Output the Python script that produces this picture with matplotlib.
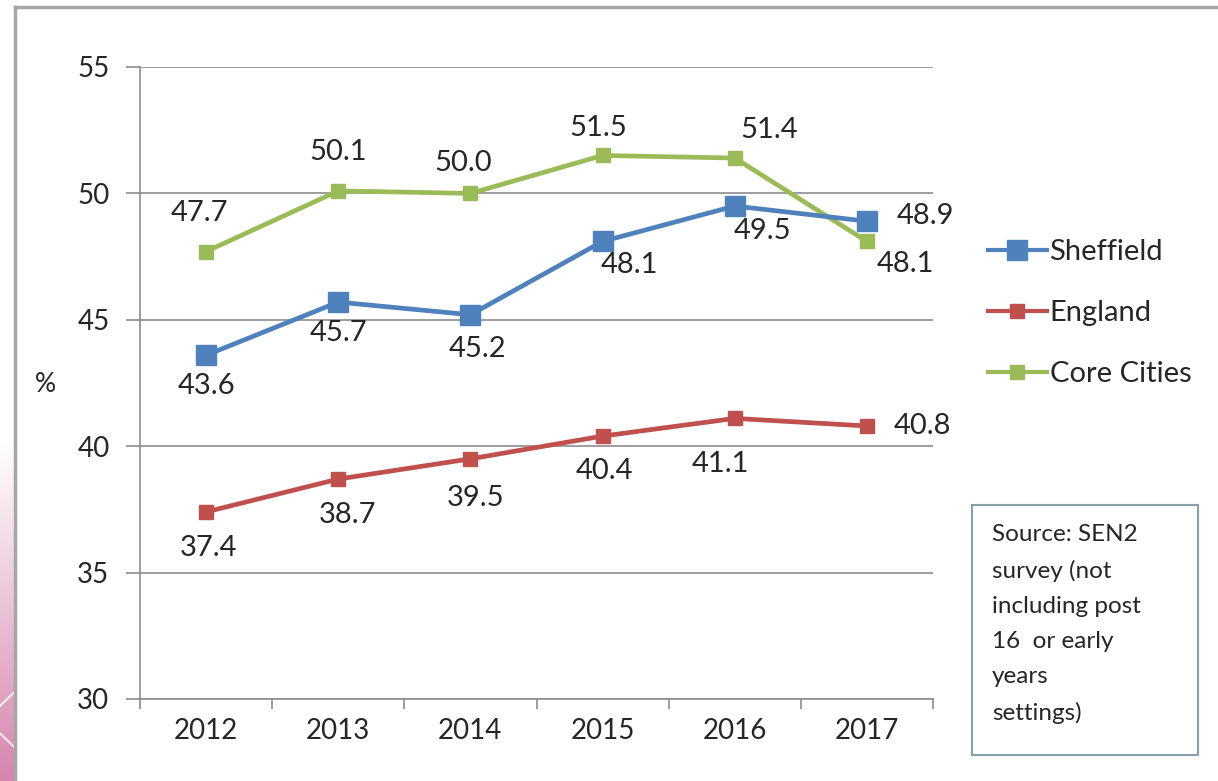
import numpy as np
import matplotlib.pyplot as plt
from matplotlib.lines import Line2D
from matplotlib.patches import Rectangle

plt.rcParams['font.family'] = ['Lato', 'DejaVu Sans']

years = ['2012', '2013', '2014', '2015', '2016', '2017']
sheffield = [43.6, 45.7, 45.2, 48.1, 49.5, 48.9]
england = [37.4, 38.7, 39.5, 40.4, 41.1, 40.8]
core_cities = [47.7, 50.1, 50.0, 51.5, 51.4, 48.1]

# label offsets in points (dx, dy) for each point
sheff_off = [(0, -22), (0, -22), (5, -25), (19, -17), (20, -18), (42, 4)]
eng_off = [(2, -26), (7, -26), (4, -28), (1, -25), (-10, -33), (40, 0)]
core_off = [(-5, 28), (0, 28), (-5, 22), (-3, 20), (25, 20), (28, -16)]

c_sheff = '#4F81BD'
c_eng = '#C0504D'
c_core = '#9BBB59'
txt = '#262626'

fig = plt.figure(figsize=(12.18, 7.81), dpi=100)

# pink slide decoration on the left edge
bg = fig.add_axes([0, 0, 14 / 1218, 1 - 440 / 781])
grad = np.linspace(0, 1, 200)[:, None]
pink = np.array([0.84, 0.52, 0.68])
img = np.ones((200, 1, 3)) * (1 - grad[..., None]) + pink * grad[..., None]
bg.imshow(img, aspect='auto', extent=[0, 1, 0, 1])
bg.plot([0, 1], [0.22, 0.26], color='white', lw=1.5, alpha=0.8)
bg.plot([0, 1], [0.14, 0.10], color='white', lw=1.5, alpha=0.8)
bg.set_xlim(0, 1)
bg.set_ylim(0, 1)
bg.set_axis_off()

# chart frame
fig.add_artist(Line2D([15 / 1218, 15 / 1218], [0, 1 - 7 / 781], color='#a6a6a6', lw=2.5))
fig.add_artist(Line2D([15 / 1218, 1], [1 - 7 / 781, 1 - 7 / 781], color='#a6a6a6', lw=2.5))

ax = fig.add_axes([140 / 1218, 1 - 699 / 781, 793 / 1218, 632 / 781])
x = np.arange(len(years))

for vals, col, ms, offs in [(england, c_eng, 10, eng_off),
                            (core_cities, c_core, 10, core_off),
                            (sheffield, c_sheff, 15, sheff_off)]:
    ax.plot(x, vals, color=col, lw=3.4, marker='s', ms=ms, zorder=3)
    for xi, v, (dx, dy) in zip(x, vals, offs):
        ax.annotate(f'{v:.1f}', (xi, v), xytext=(dx, dy), textcoords='offset points',
                    ha='center', va='center', fontsize=21, color=txt, zorder=4)

ax.set_xlim(-0.5, 5.5)
ax.set_ylim(30, 55)
ax.set_yticks([30, 35, 40, 45, 50, 55])
ax.yaxis.grid(True, color='#8c8c8c', lw=1.2)
ax.set_axisbelow(True)
ax.set_xticks(x)
ax.set_xticklabels(years)
ax.set_xticks(np.arange(-0.5, 6, 1), minor=True)
ax.tick_params(axis='x', which='major', length=0, labelsize=20, labelcolor=txt, pad=14)
ax.tick_params(axis='x', which='minor', length=7, color='#8c8c8c', width=1.2)
ax.tick_params(axis='y', length=10, color='#8c8c8c', width=1.2, labelsize=20,
               labelcolor=txt, pad=12)
for s in ['top', 'right']:
    ax.spines[s].set_visible(False)
for s in ['left', 'bottom']:
    ax.spines[s].set_color('#8c8c8c')
    ax.spines[s].set_linewidth(1.2)

fig.text(45 / 1218, 1 - 385 / 781, '%', fontsize=19, color=txt, ha='center', va='center')

# legend
handles = [Line2D([], [], color=c_sheff, lw=3, marker='s', ms=15),
           Line2D([], [], color=c_eng, lw=3, marker='s', ms=10),
           Line2D([], [], color=c_core, lw=3, marker='s', ms=10)]
fig.legend(handles, ['Sheffield', 'England', 'Core Cities'], loc='center left',
           bbox_to_anchor=(962 / 1218, 1 - 313 / 781), frameon=False, fontsize=21,
           handlelength=2.0, handletextpad=0.1, labelspacing=1.2, labelcolor=txt)

# source box
fig.add_artist(Rectangle((972 / 1218, 1 - 755 / 781), 226 / 1218, 250 / 781,
                         transform=fig.transFigure, facecolor='white',
                         edgecolor='#8aa0a8', lw=1.5))
fig.text(992 / 1218, 1 - 524 / 781,
         'Source: SEN2\nsurvey (not\nincluding post\n16  or early\nyears\nsettings)',
         fontsize=17.5, color=txt, ha='left', va='top', linespacing=1.82)

fig.savefig('out.png', dpi=100)
